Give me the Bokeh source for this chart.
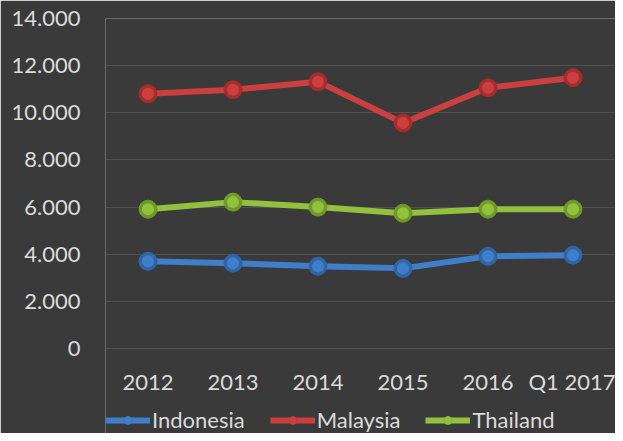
from bokeh.plotting import figure
from bokeh.models import FactorRange, Range1d, Legend, LegendItem, CustomJSTickFormatter
from bokeh.embed import file_html
from bokeh.resources import INLINE

categories = ["2012", "2013", "2014", "2015", "2016", "Q1 2017"]
indonesia = [3700, 3620, 3490, 3400, 3910, 3960]
malaysia = [10810, 10980, 11320, 9570, 11060, 11490]
thailand = [5910, 6210, 6000, 5740, 5910, 5910]
y_ticks = [0, 2000, 4000, 6000, 8000, 10000, 12000, 14000]

series = [
    ("Indonesia", indonesia, "#3f7fc9", "#2f66a8"),
    ("Malaysia", malaysia, "#cc3f3f", "#a82c2c"),
    ("Thailand", thailand, "#92c13e", "#6f9a28"),
]

FONT = "Lato"
TEXT = "#dadada"
BG = "#3a3a3a"

# frame: 0 at 348px, 14000 at 18px; frame extended below 0 to hold x labels and legend
p = figure(frame_width=510, frame_height=415, x_range=FactorRange(*categories, range_padding=0),
           y_range=Range1d(-3606, 14000), output_backend="svg", toolbar_location=None,
           background_fill_color=BG, border_fill_color=BG, outline_line_color=None,
           min_border_left=105, min_border_right=0, min_border_top=18, min_border_bottom=0)

items = []
for name, vals, col, dark in series:
    r1 = p.line(categories, vals, line_color=col, line_width=6)
    r2 = p.scatter(categories, vals, size=18, fill_color=dark, line_color=dark)
    r3 = p.scatter(categories, vals, size=12, fill_color=col, line_color=None)
    items.append(LegendItem(label=name, renderers=[r1, r2, r3]))

p.xgrid.grid_line_color = None
p.ygrid.grid_line_color = "#505050"
p.ygrid.grid_line_width = 1
p.ygrid.ticker = y_ticks
p.yaxis.ticker = y_ticks
p.yaxis.formatter = CustomJSTickFormatter(code="return tick == 0 ? '0' : (tick/1000).toFixed(3);")

for ax in (p.xaxis[0], p.yaxis[0]):
    ax.axis_line_color = None
    ax.major_tick_line_color = None
    ax.minor_tick_line_color = None
    ax.major_label_text_color = TEXT
    ax.major_label_text_font = FONT
    ax.major_label_text_font_size = "22px"
p.yaxis.major_label_standoff = 19
p.xaxis.fixed_location = 0
p.xaxis.major_label_standoff = 13

legend = Legend(items=items, orientation="horizontal", location=(0, 0),
                background_fill_alpha=0, border_line_color=None,
                label_text_color=TEXT, label_text_font=FONT, label_text_font_size="22px",
                glyph_width=45, glyph_height=20, label_standoff=2, spacing=25,
                margin=0, padding=0)
p.add_layout(legend, "center")

open("out.html", "w").write(file_html(p, INLINE))
